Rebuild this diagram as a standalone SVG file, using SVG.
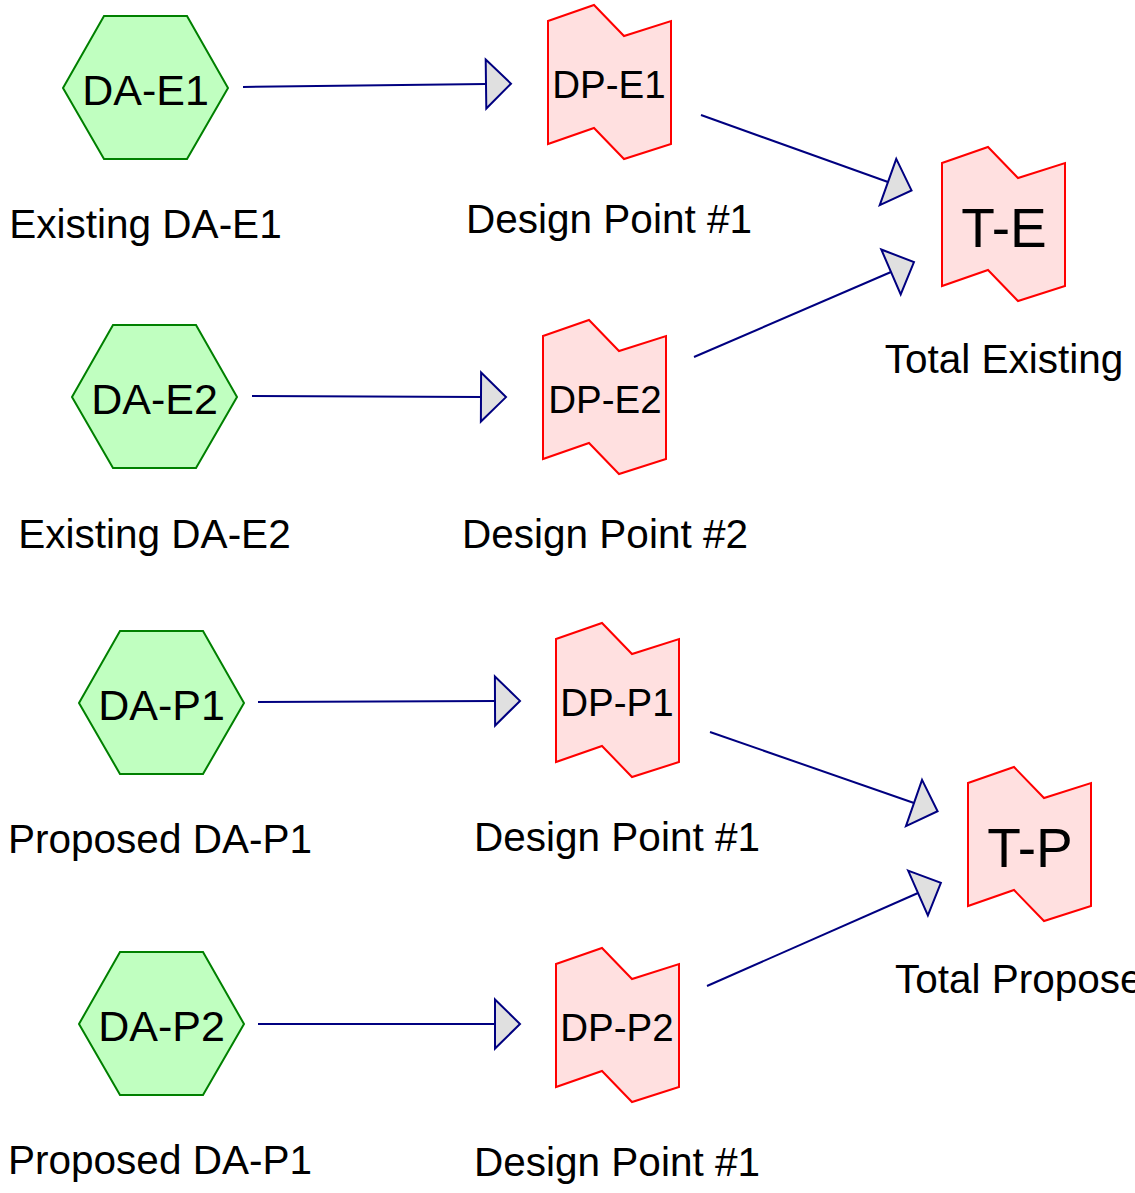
<svg xmlns="http://www.w3.org/2000/svg" width="1135" height="1193" viewBox="0 0 1135 1193">
<style>
.hex{fill:#c0ffc0;stroke:#008000;stroke-width:2}
.dp{fill:#ffe0e0;stroke:#ff0000;stroke-width:2}
.conn{stroke:#000080;stroke-width:2;fill:none;marker-end:url(#tri)}
text{font-family:"Liberation Sans",Arial,sans-serif;fill:#000;text-anchor:middle}
.lbl{font-size:40.5px}
.hl{font-size:43px}
.dl{font-size:38.5px}
.tl{font-size:55px}
</style>
<defs>
<polygon id="hexshape" points="0,72 41,0 124,0 165,72 124,143 41,143"/>
<polygon id="dpshape" points="0,16 46,0 76,31 123,16 123,139 76,154 46,123 0,139"/>
<marker id="tri" markerUnits="userSpaceOnUse" markerWidth="30" markerHeight="54" refX="0" refY="24.5" orient="auto" overflow="visible">
<path d="M0,0 L25,24.5 L0,49 Z" fill="#e0e0e0" stroke="#000080" stroke-width="2" stroke-linejoin="miter"/>
</marker>
</defs>
<g id="connectors">
<line class="conn" x1="243" y1="87" x2="486" y2="84"/>
<line class="conn" x1="252" y1="396" x2="481" y2="397"/>
<line class="conn" x1="258" y1="702" x2="495" y2="701"/>
<line class="conn" x1="258" y1="1024" x2="495" y2="1024"/>
<line class="conn" x1="701" y1="115" x2="888" y2="182"/>
<line class="conn" x1="694" y1="357" x2="891" y2="272"/>
<line class="conn" x1="710" y1="732" x2="914" y2="803"/>
<line class="conn" x1="707" y1="986" x2="918" y2="893"/>
</g>
<g id="DA-E1">
<use href="#hexshape" class="hex" x="63" y="16"/>
<text class="hl" x="145.5" y="105">DA-E1</text>
<text class="lbl" x="145.5" y="238">Existing DA-E1</text>
</g>
<g id="DA-E2">
<use href="#hexshape" class="hex" x="72" y="325"/>
<text class="hl" x="154.5" y="414">DA-E2</text>
<text class="lbl" x="154.5" y="548">Existing DA-E2</text>
</g>
<g id="DA-P1">
<use href="#hexshape" class="hex" x="79" y="631"/>
<text class="hl" x="161.5" y="720">DA-P1</text>
<text class="lbl" x="160" y="853">Proposed DA-P1</text>
</g>
<g id="DA-P2">
<use href="#hexshape" class="hex" x="79" y="952"/>
<text class="hl" x="161.5" y="1041">DA-P2</text>
<text class="lbl" x="160" y="1174">Proposed DA-P1</text>
</g>
<g id="DP-E1">
<use href="#dpshape" class="dp" x="548" y="5"/>
<text class="dl" x="609" y="98">DP-E1</text>
<text class="lbl" x="609" y="233">Design Point #1</text>
</g>
<g id="DP-E2">
<use href="#dpshape" class="dp" x="543" y="320"/>
<text class="dl" x="605" y="413">DP-E2</text>
<text class="lbl" x="605" y="548">Design Point #2</text>
</g>
<g id="DP-P1">
<use href="#dpshape" class="dp" x="556" y="623"/>
<text class="dl" x="617" y="716">DP-P1</text>
<text class="lbl" x="617" y="851">Design Point #1</text>
</g>
<g id="DP-P2">
<use href="#dpshape" class="dp" x="556" y="948"/>
<text class="dl" x="617" y="1041">DP-P2</text>
<text class="lbl" x="617" y="1176">Design Point #1</text>
</g>
<g id="T-E">
<use href="#dpshape" class="dp" x="942" y="147"/>
<text class="tl" x="1004" y="247">T-E</text>
<text class="lbl" x="1004" y="373">Total Existing</text>
</g>
<g id="T-P">
<use href="#dpshape" class="dp" x="968" y="767"/>
<text class="tl" x="1030" y="867">T-P</text>
<text class="lbl" x="1030" y="993">Total Proposed</text>
</g>
</svg>
